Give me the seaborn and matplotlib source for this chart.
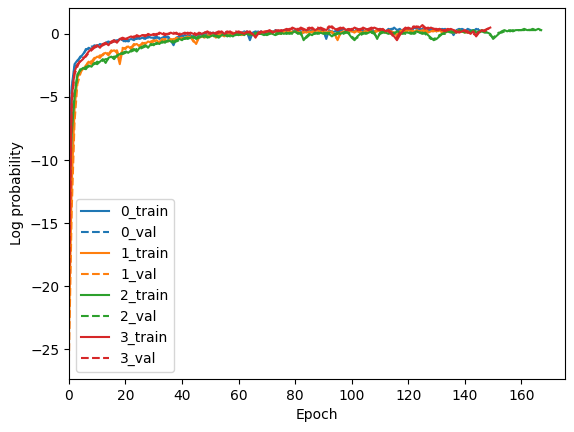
import numpy as np
import pandas as pd
import seaborn as sns
import matplotlib.pyplot as plt

# log probability per epoch
fold0_train = [
    -12, -4.2, -2.4, -2.1, -1.9, -1.6, -1.3, -1.1, -1.2, -0.9,
    -1.0, -0.8, -0.9, -0.7, -0.6, -0.7, -0.5, -0.6, -0.4, -0.5,
    -0.6, -0.5, -0.4, -0.5, -0.3, -0.4, -0.3, -0.4, -0.2, -0.3,
    -0.3, -0.2, -0.4, -0.3, -0.2, -0.3, -0.5, -0.9, -0.3, -0.2,
    -0.2, -0.1, -0.2, -0.1, -0.3, -0.1, 0.0, -0.1, 0.1, -0.1,
    0.0, 0.1, -0.1, 0.0, 0.1, 0.0, 0.1, -0.1, 0.0, 0.1,
    0.1, 0.0, 0.2, 0.1, -0.5, 0.1, 0.2, 0.1, 0.2, 0.0,
    0.1, 0.2, 0.1, 0.3, 0.2, 0.1, 0.2, 0.3, 0.2, 0.1,
    0.2, 0.3, 0.2, 0.1, 0.3, 0.2, 0.3, 0.2, 0.4, 0.2,
    0.3, -0.4, 0.3, 0.1, 0.2, 0.3, 0.2, 0.4, 0.3, 0.2,
    0.3, 0.2, 0.4, 0.3, 0.2, 0.3, 0.4, 0.3, 0.2, 0.3,
    0.4, 0.3, 0.2, 0.4, 0.3, 0.5, 0.3, 0.4, 0.2, 0.3,
    0.4, 0.3, 0.5, 0.4, 0.3, 0.4, 0.2, 0.3, 0.4, 0.3,
    0.2, 0.4, 0.3, 0.4, 0.2, 0.3, -0.1, 0.3, 0.4, 0.3,
    0.2, 0.4, 0.3, 0.2, 0.4, 0.3,
]
fold0_val = [
    -10, -4.5, -2.6, -2.2, -1.8, -1.7, -1.2, -1.2, -1.0, -1.0,
    -0.9, -0.9, -0.8, -0.8, -0.7, -0.6, -0.6, -0.5, -0.5, -0.6,
    -0.5, -0.6, -0.5, -0.4, -0.4, -0.3, -0.4, -0.3, -0.3, -0.2,
    -0.4, -0.3, -0.3, -0.2, -0.3, -0.2, -0.4, -0.8, -0.4, -0.3,
    -0.1, -0.2, -0.1, -0.2, -0.2, 0.0, -0.1, 0.0, 0.0, -0.2,
    0.1, 0.0, 0.0, -0.1, 0.0, 0.1, 0.0, 0.0, 0.1, 0.0,
    0.0, 0.1, 0.1, 0.2, -0.3, 0.0, 0.1, 0.2, 0.1, 0.1,
    0.2, 0.1, 0.2, 0.2, 0.1, 0.2, 0.3, 0.2, 0.1, 0.2,
    0.3, 0.2, 0.3, 0.2, 0.2, 0.3, 0.2, 0.3, 0.3, 0.1,
    0.2, -0.3, 0.2, 0.2, 0.3, 0.2, 0.3, 0.3, 0.2, 0.3,
    0.2, 0.3, 0.3, 0.2, 0.3, 0.4, 0.3, 0.2, 0.3, 0.4,
    0.3, 0.2, 0.3, 0.3, 0.4, 0.4, 0.2, 0.3, 0.3, 0.4,
    0.3, 0.4, 0.4, 0.3, 0.4, 0.3, 0.3, 0.2, 0.3, 0.4,
    0.3, 0.3, 0.4, 0.3, 0.3, 0.2, 0.0, 0.2, 0.3, 0.4,
    0.3, 0.3, 0.2, 0.3, 0.3, 0.4,
]
fold1_train = [
    -24, -12, -6.0, -3.5, -3.0, -2.8, -2.5, -2.2, -2.4, -2.0,
    -1.8, -1.9, -1.6, -1.5, -1.7, -1.4, -1.3, -1.5, -2.4, -1.2,
    -1.1, -1.0, -1.2, -0.9, -0.8, -1.0, -0.7, -0.8, -0.6, -0.7,
    -0.6, -0.5, -0.7, -0.4, -0.5, -0.6, -0.4, -0.5, -0.3, -0.4,
    -0.3, -0.4, -0.2, -0.3, -0.5, -0.8, -0.3, -0.2, -0.3, -0.1,
    -0.2, -0.1, -0.3, 0.0, -0.1, -0.2, 0.0, -0.1, 0.1, 0.0,
    -0.1, 0.0, 0.1, 0.0, 0.1, -0.1, 0.0, 0.1, 0.0, 0.2,
    0.1, 0.0, 0.1, 0.2, 0.1, 0.0, 0.2, 0.1, 0.2, 0.1,
    0.2, 0.1, 0.0, 0.2, 0.1, 0.2, 0.1, 0.2, 0.3, 0.1,
    0.2, 0.1, 0.2, 0.1, 0.0, -0.5, 0.1, 0.2, 0.1, 0.2,
    0.2, 0.1, 0.3, 0.2, 0.1, 0.2, 0.3, 0.2, 0.1, 0.2,
    0.3, 0.2, 0.1, 0.3, 0.2, 0.1, -0.1, 0.2, 0.3, 0.2,
    0.3, 0.2, 0.1, 0.3, 0.2, 0.3, 0.2, 0.1, 0.2, 0.3,
    0.2, 0.3, 0.1, 0.2, 0.3, 0.2, 0.1, 0.2, 0.3, 0.2,
    0.1, 0.2,
]
fold1_val = [
    -26, -14, -7.0, -4.0, -3.2, -2.6, -2.7, -2.1, -2.2, -1.9,
    -1.9, -1.7, -1.7, -1.4, -1.6, -1.3, -1.4, -1.3, -2.0, -1.1,
    -1.2, -0.9, -1.1, -0.8, -0.9, -0.9, -0.8, -0.7, -0.7, -0.6,
    -0.5, -0.6, -0.6, -0.5, -0.4, -0.5, -0.5, -0.4, -0.4, -0.3,
    -0.4, -0.3, -0.3, -0.2, -0.6, -0.7, -0.2, -0.3, -0.2, -0.2,
    -0.1, -0.2, -0.2, -0.1, 0.0, -0.1, -0.1, 0.0, 0.0, 0.1,
    0.0, -0.1, 0.0, 0.1, 0.0, 0.0, 0.1, 0.0, 0.1, 0.1,
    0.0, 0.1, 0.2, 0.1, 0.0, 0.1, 0.1, 0.2, 0.1, 0.2,
    0.1, 0.2, 0.1, 0.1, 0.2, 0.1, 0.2, 0.2, 0.2, 0.2,
    0.1, 0.2, 0.1, 0.2, -0.2, -0.4, 0.0, 0.1, 0.2, 0.1,
    0.1, 0.2, 0.2, 0.1, 0.2, 0.2, 0.2, 0.1, 0.2, 0.3,
    0.2, 0.2, 0.2, 0.2, 0.1, 0.2, -0.2, 0.1, 0.2, 0.3,
    0.2, 0.3, 0.2, 0.2, 0.1, 0.2, 0.3, 0.2, 0.2, 0.2,
    0.3, 0.2, 0.2, 0.1, 0.2, 0.3, 0.2, 0.2, 0.2, 0.3,
    0.2, 0.1,
]
fold2_train = [
    -14, -8.0, -5.0, -3.2, -2.9, -2.7, -2.8, -2.5, -2.6, -2.3,
    -2.4, -2.2, -2.0, -2.3, -1.9, -1.8, -2.0, -1.7, -1.6, -1.5,
    -1.4, -1.5, -1.3, -1.2, -1.4, -1.1, -1.0, -0.9, -1.1, -0.8,
    -0.9, -0.7, -0.8, -0.6, -0.7, -0.5, -0.6, -0.7, -0.5, -0.4,
    -0.5, -0.3, -0.4, -0.3, -0.2, -0.4, -0.3, -0.2, -0.1, -0.3,
    -0.2, -0.1, -0.2, -0.3, -0.1, 0.0, -0.2, -0.1, -0.2, 0.0,
    -0.1, 0.0, -0.1, 0.1, 0.0, -0.1, 0.0, 0.1, 0.0, -0.1,
    0.0, 0.1, 0.0, -0.1, 0.0, 0.1, 0.0, 0.1, 0.0, 0.1,
    0.2, 0.0, 0.1, -0.5, -0.2, 0.0, -0.1, 0.1, 0.0, 0.1,
    0.0, 0.1, 0.0, -0.2, 0.0, 0.1, 0.0, 0.1, 0.2, 0.0,
    -0.3, -0.5, -0.2, 0.0, 0.1, 0.0, 0.1, 0.2, 0.1, -0.4,
    0.1, 0.2, 0.1, 0.0, 0.1, 0.0, 0.2, 0.1, 0.0, 0.1,
    0.1, 0.0, 0.1, 0.2, 0.1, 0.0, 0.1, -0.1, -0.3, -0.5,
    -0.4, -0.2, 0.0, 0.1, 0.2, 0.1, 0.2, 0.1, 0.3, 0.2,
    0.2, 0.1, 0.2, 0.3, 0.1, 0.2, 0.3, 0.2, 0.1, 0.0,
    -0.4, -0.2, 0.0, 0.2, 0.3, 0.2, 0.3, 0.2, 0.3, 0.3,
    0.3, 0.4, 0.3, 0.3, 0.4, 0.3, 0.4, 0.3,
]
fold2_val = [
    -12, -7.0, -4.6, -3.4, -2.8, -2.9, -2.6, -2.6, -2.4, -2.4,
    -2.2, -2.3, -2.1, -2.0, -2.0, -1.9, -1.8, -1.8, -1.5, -1.6,
    -1.5, -1.3, -1.4, -1.3, -1.2, -1.2, -1.1, -1.0, -0.9, -0.9,
    -0.8, -0.8, -0.7, -0.7, -0.6, -0.6, -0.5, -0.6, -0.6, -0.5,
    -0.4, -0.4, -0.3, -0.4, -0.3, -0.3, -0.2, -0.3, -0.2, -0.2,
    -0.3, -0.2, -0.1, -0.2, -0.2, -0.1, -0.1, -0.2, -0.1, -0.1,
    0.0, -0.1, 0.0, 0.0, -0.1, 0.0, 0.1, 0.0, 0.0, 0.0,
    -0.1, 0.0, 0.1, 0.0, 0.1, 0.0, 0.0, 0.0, 0.1, 0.0,
    0.1, 0.1, 0.0, -0.4, -0.3, -0.1, 0.0, 0.0, 0.1, 0.0,
    0.1, 0.0, 0.1, -0.1, -0.1, 0.0, 0.1, 0.0, 0.1, 0.1,
    -0.2, -0.4, -0.3, -0.1, 0.0, 0.1, 0.0, 0.1, 0.0, -0.3,
    0.0, 0.1, 0.1, 0.1, 0.0, 0.1, 0.1, 0.0, 0.1, 0.0,
    0.1, 0.1, 0.0, 0.1, 0.1, 0.1, 0.0, -0.2, -0.4, -0.4,
    -0.3, -0.1, 0.0, 0.0, 0.1, 0.2, 0.1, 0.2, 0.2, 0.2,
    0.1, 0.2, 0.1, 0.2, 0.2, 0.1, 0.2, 0.1, 0.1, -0.1,
    -0.3, -0.1, 0.1, 0.1, 0.2, 0.3, 0.2, 0.3, 0.2, 0.3,
    0.3, 0.3, 0.4, 0.3, 0.3, 0.3, 0.3, 0.3,
]
fold3_train = [
    -19, -5.0, -3.0, -2.4, -2.2, -2.0, -1.7, -1.4, -1.2, -1.0,
    -0.9, -1.1, -0.8, -0.7, -0.9, -0.6, -0.5, -0.7, -0.4, -0.3,
    -0.4, -0.3, -0.2, -0.3, -0.1, -0.2, -0.1, -0.2, 0.0, -0.1,
    0.0, -0.1, 0.1, 0.0, -0.1, 0.0, 0.1, 0.0, 0.1, -0.1,
    0.0, 0.1, 0.0, 0.1, 0.0, -0.1, 0.1, 0.0, 0.1, 0.2,
    0.0, 0.1, 0.0, 0.1, 0.2, 0.0, 0.1, 0.2, 0.0, 0.1,
    0.2, 0.1, 0.0, 0.2, 0.1, 0.0, -0.3, 0.1, 0.2, 0.1,
    0.2, 0.3, 0.1, 0.2, 0.3, 0.2, 0.3, 0.4, 0.3, 0.5,
    0.4, 0.3, 0.5, 0.4, 0.3, 0.4, 0.5, 0.3, 0.4, 0.5,
    0.4, 0.3, 0.5, 0.6, 0.4, 0.3, 0.4, 0.5, 0.3, 0.4,
    0.3, 0.5, 0.4, 0.3, 0.5, 0.4, 0.3, 0.4, 0.5, 0.4,
    0.3, 0.4, 0.2, 0.3, 0.1, -0.2, -0.5, -0.1, 0.2, 0.4,
    0.5, 0.4, 0.5, 0.6, 0.5, 0.7, 0.5, 0.4, 0.5, 0.4,
    0.3, 0.4, 0.3, 0.2, 0.3, 0.4, 0.3, 0.2, 0.1, 0.2,
    0.3, 0.2, 0.0, 0.2, -0.2, 0.1, 0.3, 0.2, 0.4, 0.5,
]
fold3_val = [
    -21, -5.5, -3.2, -2.6, -2.1, -1.9, -1.8, -1.5, -1.3, -1.1,
    -1.0, -1.0, -0.9, -0.8, -0.8, -0.7, -0.6, -0.6, -0.5, -0.4,
    -0.4, -0.4, -0.3, -0.2, -0.2, -0.2, -0.1, -0.1, -0.1, 0.0,
    -0.1, 0.0, 0.0, 0.1, 0.0, 0.0, 0.0, 0.1, 0.0, 0.0,
    0.1, 0.0, 0.1, 0.0, 0.1, 0.0, 0.0, 0.1, 0.1, 0.1,
    0.1, 0.0, 0.1, 0.2, 0.1, 0.1, 0.2, 0.1, 0.1, 0.2,
    0.1, 0.1, 0.1, 0.1, 0.2, -0.1, -0.2, 0.0, 0.1, 0.2,
    0.2, 0.2, 0.2, 0.3, 0.2, 0.3, 0.3, 0.3, 0.4, 0.4,
    0.4, 0.4, 0.4, 0.3, 0.4, 0.5, 0.4, 0.4, 0.5, 0.4,
    0.3, 0.4, 0.6, 0.5, 0.3, 0.4, 0.5, 0.4, 0.4, 0.3,
    0.4, 0.4, 0.3, 0.4, 0.4, 0.3, 0.4, 0.5, 0.4, 0.3,
    0.4, 0.3, 0.3, 0.2, 0.0, -0.3, -0.3, 0.1, 0.3, 0.5,
    0.4, 0.5, 0.6, 0.5, 0.6, 0.6, 0.4, 0.5, 0.4, 0.4,
    0.4, 0.3, 0.3, 0.3, 0.4, 0.3, 0.3, 0.1, 0.2, 0.3,
    0.2, 0.1, 0.1, 0.0, -0.1, 0.2, 0.2, 0.3, 0.4, 0.4,
]

folds = ['0', '1', '2', '3']
train_curves = [fold0_train, fold1_train, fold2_train, fold3_train]
val_curves = [fold0_val, fold1_val, fold2_val, fold3_val]
colors = sns.color_palette('tab10', 4)

fig, ax = plt.subplots(figsize=(5.74, 4.32), dpi=100)
fig.subplots_adjust(left=0.12, right=0.984, top=0.981, bottom=0.123)

for fold, tr, va, c in zip(folds, train_curves, val_curves, colors):
    sns.lineplot(x=np.arange(len(tr)), y=tr, color=c, label=fold + '_train', ax=ax)
    sns.lineplot(x=np.arange(len(va)), y=va, color=c, linestyle='--', label=fold + '_val', ax=ax)

ax.set_xlim(left=0)
ax.set_xlabel('Epoch')
ax.set_ylabel('Log probability')
ax.legend(loc='lower left')
fig.savefig('out.png', dpi=100)
